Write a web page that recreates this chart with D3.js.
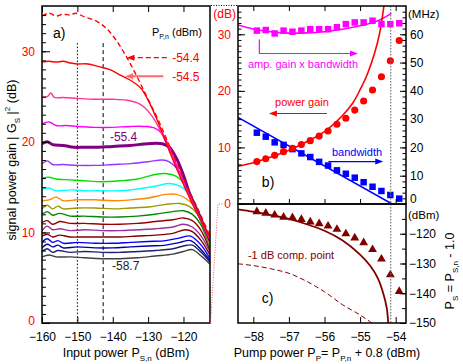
<!DOCTYPE html>
<html><head><meta charset="utf-8">
<script src="https://cdn.jsdelivr.net/npm/d3@7"></script>
<style>body{margin:0;background:#fff} svg{display:block;font-family:"Liberation Sans",Arial,sans-serif}</style>
</head><body><svg id="c" width="463" height="364"></svg>
<script>
// ---------- Panel a data: gain vs input power, one curve per pump power ----------
const pumpLabels = ["-54.4","-54.5","-54.7","-55.0","-55.4","-55.7","-56.0","-56.3","-56.6","-56.9","-57.2","-57.5","-57.8","-58.0","-58.2","-58.4","-58.6","-58.7"];
const curveColors = ["#ff0000","#ff0000","#ff3399","#ff00ff","#800080","#9933ff","#00e000","#00ffff","#ff8800","#999900","#008800","#990000","#993399","#800000","#0000ff","#0000aa","#202070","#404040"];
const gainCurves = [
 [[-160,33.9],[-158,34.2],[-156,33.9],[-154,34.1],[-152,34.0],[-150.5,34.2],[-148,33.8],[-145,33.4],[-142,32.6],[-139,31.2],[-136,29.3],[-133,27.1],[-130,24.7],[-127,22.3],[-124,19.6],[-121,16.9],[-118,14.3],[-115,11.8],[-112.5,9.6]],
 [[-160,28.8],[-158,28.9],[-156,28.8],[-154,28.9],[-152,28.7],[-150,28.6],[-147,28.6],[-144,28.3],[-141,28.0],[-138,27.4],[-135,26.8],[-132,25.9],[-130,24.6],[-127,22.0],[-124,19.0],[-121,16.2],[-118,13.6],[-115,11.3],[-112.5,9.4]],
 [[-160,24.9],[-158.5,25.0],[-157.5,25.4],[-156.5,24.9],[-154,24.9],[-150,24.8],[-145,24.7],[-140,24.7],[-136,24.6],[-133,24.3],[-131,23.8],[-129,22.9],[-127,21.6],[-124,19.1],[-121,16.3],[-118,13.7],[-115,11.3],[-112.5,9.3]],
 [[-160,22.0],[-158,22.2],[-156,21.8],[-153,21.8],[-150,21.7],[-145,21.6],[-140,21.6],[-135,21.7],[-131,21.7],[-128,21.5],[-126,20.9],[-124,19.4],[-121,16.5],[-118,13.8],[-115,11.3],[-112.5,9.2]],
 [[-160,19.8],[-158.5,20.0],[-157,19.7],[-154,19.6],[-151,19.4],[-148,19.4],[-144,19.4],[-140,19.5],[-135,19.6],[-130,19.8],[-126,19.8],[-124,19.4],[-122,18.2],[-120,16.3],[-118,14.0],[-115,11.4],[-112.5,9.1]],
 [[-160,17.6],[-158.5,17.9],[-157,17.5],[-154,17.5],[-150,17.4],[-145,17.4],[-140,17.5],[-135,17.6],[-130,17.8],[-126,18.0],[-124,17.8],[-122,17.1],[-120,15.9],[-118,14.1],[-115,11.5],[-112.5,9.0]],
 [[-160,16.0],[-158,16.1],[-156,15.9],[-152,15.8],[-148,15.7],[-143,15.6],[-138,15.7],[-133,15.9],[-128,16.4],[-125,16.5],[-122,16.2],[-120,15.5],[-118,14.2],[-115,11.6],[-112.5,8.9]],
 [[-160,14.8],[-158,14.9],[-156,14.6],[-152,14.7],[-148,14.6],[-143,14.6],[-138,14.6],[-133,14.8],[-128,15.1],[-124,15.4],[-121,15.1],[-119,14.5],[-117,13.3],[-115,11.7],[-112.5,8.8]],
 [[-160,13.5],[-158,13.6],[-156,13.9],[-154,13.5],[-150,13.6],[-145,13.6],[-140,13.5],[-135,13.6],[-130,13.8],[-125,14.2],[-122,14.2],[-119.5,13.8],[-117,12.9],[-115,11.4],[-112.5,8.6]],
 [[-160,12.6],[-158.5,13.0],[-157,12.6],[-155.5,12.9],[-154,12.6],[-150,12.7],[-145,12.7],[-140,12.6],[-135,12.7],[-130,12.8],[-125,13.1],[-121,13.2],[-118.5,12.9],[-116,12.0],[-112.5,8.4]],
 [[-160,12.0],[-158.5,12.3],[-157,11.9],[-155,12.1],[-152,11.8],[-148,11.8],[-143,11.7],[-138,11.7],[-133,11.8],[-128,12.0],[-123,12.3],[-120,12.4],[-117.5,12.0],[-115,10.8],[-112.5,8.2]],
 [[-160,11.1],[-158.5,11.3],[-157,10.9],[-155,11.2],[-152,11.0],[-148,11.0],[-143,10.9],[-138,10.9],[-133,11.0],[-128,11.2],[-123,11.4],[-120,11.6],[-117.5,11.3],[-115,10.2],[-112.5,8.0]],
 [[-160,10.2],[-158.5,10.7],[-157,10.3],[-155,10.4],[-152,10.2],[-148,10.3],[-143,10.2],[-138,10.2],[-133,10.3],[-128,10.4],[-123,10.6],[-120,10.9],[-117.5,10.6],[-115,9.6],[-112.5,7.8]],
 [[-160,9.6],[-158.5,9.8],[-157,9.5],[-155,9.7],[-152,9.5],[-148,9.5],[-143,9.5],[-138,9.5],[-133,9.6],[-128,9.7],[-123,9.9],[-119.5,10.3],[-117.5,10.1],[-115,9.1],[-112.5,7.5]],
 [[-160,8.9],[-158.5,9.3],[-157,8.9],[-155.5,9.1],[-154,8.8],[-150,8.9],[-145,8.8],[-140,8.8],[-135,8.9],[-130,9.0],[-125,9.1],[-121,9.4],[-118,9.6],[-115,8.6],[-112.5,7.1]],
 [[-160,8.3],[-158.5,8.7],[-157,8.4],[-155.5,8.6],[-154,8.3],[-150,8.4],[-145,8.3],[-140,8.3],[-135,8.4],[-130,8.5],[-125,8.6],[-121,8.9],[-118,9.1],[-115,8.1],[-112.5,6.9]],
 [[-160,7.9],[-158.5,8.2],[-157,7.8],[-155.5,8.0],[-152,7.8],[-148,7.9],[-143,7.8],[-138,7.8],[-133,7.9],[-128,8.0],[-123,8.2],[-120,8.5],[-117.5,8.6],[-115,7.8],[-112.5,6.7]],
 [[-160,7.3],[-158,7.5],[-156,7.3],[-152,7.3],[-148,7.2],[-143,7.1],[-138,7.1],[-133,7.2],[-128,7.4],[-123,7.6],[-120,7.9],[-117.5,8.1],[-115,7.4],[-112.5,6.5]]
];
const inputTicks = [-160,-150,-140,-130,-120];
const gainTicks = [0,10,20,30];
const markerInputs = [-150,-142.7];

// ---------- Panel b/c data ----------
const pumpMeas = [-57.9,-57.65,-57.4,-57.15,-56.9,-56.65,-56.4,-56.15,-55.9,-55.65,-55.4,-55.15,-54.9,-54.65,-54.4,-54.15,-53.9];
const gainMeas = [7.5,8.0,8.6,9.25,9.85,10.5,11.2,12.0,12.9,14.1,15.15,16.6,18.2,20.15,22.5,25.3,28.9];
const bwMeas = [25.2,23.8,21.8,20.9,19.4,17.9,16.6,14.9,13.6,11.9,10.7,9.3,7.7,6.1,4.6,3.2,1.9];
const gbwMeas = [61.3,61.5,60.3,61.3,60.9,61.3,61.8,61.8,61.8,62.5,63.6,64.2,64.2,64.8,63.6,63.6,63.9];
const compMeas = [-112.6,-113.1,-113.7,-114.4,-114.6,-115.2,-116.0,-116.6,-117.4,-118.5,-120.0,-121.4,-123.0,-125.3,-128.5,-133.8,-139.4];
const gainTheory = [[-58.43,6.7],[-58,7.3],[-57.5,8.3],[-57,9.5],[-56.5,11.0],[-56,12.8],[-55.5,15.6],[-55.2,17.9],[-55,20.2],[-54.8,22.9],[-54.6,26.5],[-54.45,30.2],[-54.32,35.5]];
const bwTheory = [[-58.43,30.6],[-54.1,0]];
const gbwTheory = [[-58.43,63.3],[-58,61.9],[-57.5,60.9],[-57,60.4],[-56.5,60.5],[-56,60.9],[-55.5,61.8],[-55,63.0],[-54.5,64.8],[-54.12,67.4]];
const compTheory = [[-58.43,-111.8],[-58,-112.6],[-57.5,-113.7],[-57,-115.0],[-56.5,-116.8],[-56,-119.0],[-55.5,-122.2],[-55,-127.0],[-54.7,-131.0],[-54.5,-135],[-54.35,-140],[-54.25,-145],[-54.21,-150]];
const compTheoryDashed = [[-58.43,-130.1],[-58,-130.7],[-57.5,-131.8],[-57,-133.3],[-56.5,-136.0],[-56,-139.5],[-55.5,-143.8],[-55,-147.3],[-54.67,-150]];
const pumpTicks = [-58,-57,-56,-55,-54];
const mhzTicks = [0,10,20,30,40,50,60];
const dbmTicks = [-150,-140,-130,-120];
const criticalPump = -54.14;

// ---------- scales ----------
const svg = d3.select("#c");
const FONT = '"Liberation Sans",Arial,sans-serif';
const xa = d3.scaleLinear([-160,-112.5],[42,210]);
const ya = d3.scaleLinear([0,35],[323,6]);
const xb = d3.scaleLinear([-58.43,-53.71],[238,406]);
const ybL = d3.scaleLinear([0,35],[204,6]);
const ybR = d3.scaleLinear([0,70],[204,6]);
const yc = d3.scaleLinear([-150,-110],[323,204]);

const defs = svg.append("defs");
function clip(id,x0,x1,y0,y1){defs.append("clipPath").attr("id",id).append("rect").attr("x",x0).attr("y",Math.min(y0,y1)).attr("width",x1-x0).attr("height",Math.abs(y1-y0));}
clip("ca",xa.range()[0],xa.range()[1],ya.range()[0],ya.range()[1]);
clip("cb",xb.range()[0],xb.range()[1],ybL.range()[0],ybL.range()[1]);
clip("cc",xb.range()[0],xb.range()[1],yc.range()[0],yc.range()[1]);

function rich(sel, parts, fs){
  let shift=0;
  parts.forEach(([t,k])=>{
    const target = k==='sub'?Math.round(fs*0.3):k==='sup'?-Math.round(fs*0.45):0;
    sel.append("tspan").attr("dy", target-shift).attr("font-size", k==='n'?fs:Math.round(fs*0.62)).text(t);
    shift=target;
  });
  return sel;
}
function arrowHead(g,x,y,dir,color){
  const L=8,W=3;
  const pts = dir==='left'?[[x,y],[x+L,y-W],[x+L,y+W]]:[[x,y],[x-L,y-W],[x-L,y+W]];
  g.append("path").attr("d","M"+pts.map(p=>p.join(",")).join("L")+"Z").attr("fill",color);
}

// ---------- Panel a ----------
const gA = svg.append("g").attr("clip-path","url(#ca)");
markerInputs.forEach((v,i)=>{
  gA.append("line").attr("x1",xa(v)).attr("x2",xa(v)).attr("y1",ya(30.9)).attr("y2",ya(0))
    .attr("stroke","#000").attr("stroke-width",1).attr("stroke-dasharray",i===0?"1.5,2":"4,3");
});
const lineA = d3.line().x(d=>xa(d[0])).y(d=>ya(d[1])).curve(d3.curveCatmullRom.alpha(0.5));
for(let i=gainCurves.length-1;i>=0;i--){
  gA.append("path").attr("d",lineA(gainCurves[i])).attr("fill","none")
    .attr("stroke",curveColors[i]).attr("stroke-width",i===4?3:1.4)
    .attr("stroke-dasharray",i===0?"5,3":null);
}

function styleAxis(g,color){
  g.attr("font-size",12).attr("font-family",FONT);
  g.select(".domain").remove();
  g.selectAll(".tick line").attr("stroke","#000");
  g.selectAll(".tick text").attr("fill",color||"#000");
}
// left axis a
svg.append("g").attr("transform",`translate(${xa.range()[0]},0)`)
  .call(d3.axisLeft(ya).tickValues(d3.range(0,35,1)).tickSize(-4).tickFormat("")).call(styleAxis);
const lAx = svg.append("g").attr("transform",`translate(${xa.range()[0]},0)`)
  .call(d3.axisLeft(ya).tickValues(gainTicks).tickSize(-8).tickPadding(7)).call(g=>styleAxis(g,"#ff0000"));
lAx.selectAll(".tick text").filter(d=>d===0).attr("dy","0.1em");
svg.append("g").attr("transform",`translate(0,${ya.range()[0]})`)
  .call(d3.axisBottom(xa).tickValues(inputTicks).tickSize(-6).tickPadding(9).tickFormat(d3.format("d"))).call(styleAxis);
svg.append("g").attr("transform",`translate(0,${ya.range()[1]})`)
  .call(d3.axisTop(xa).tickValues(inputTicks).tickSize(-6).tickFormat("")).call(styleAxis);
svg.append("rect").attr("x",42).attr("y",6).attr("width",168).attr("height",317)
  .attr("fill","none").attr("stroke","#000").attr("stroke-width",1.5);

// panel a texts
svg.append("text").attr("x",xa(-156.9)).attr("y",ya(31.5)).attr("font-size",14).attr("font-family",FONT).text("a)");
rich(svg.append("text").attr("x",xa(-128.9)).attr("y",ya(31.7)).attr("font-family",FONT).attr("fill","#000"),
  [["P","n"],["P,n","sub"],[" (dBm)","n"]],11);
svg.append("text").attr("x",xa(-123.2)).attr("y",ya(28.8)).attr("font-size",12).attr("font-family",FONT).attr("fill","#ff0000").text(pumpLabels[0]);
svg.append("text").attr("x",xa(-123.2)).attr("y",ya(26.7)).attr("font-size",12).attr("font-family",FONT).attr("fill","#ff0000").text(pumpLabels[1]);
svg.append("text").attr("x",xa(-140.8)).attr("y",ya(20.1)).attr("font-size",12).attr("font-family",FONT).attr("fill","#800080").text(pumpLabels[4]);
svg.append("text").attr("x",xa(-140.2)).attr("y",ya(5.85)).attr("font-size",12).attr("font-family",FONT).attr("fill","#222").text(pumpLabels[17]);
// legend arrows
svg.append("line").attr("x1",xa(-124.7)).attr("x2",xa(-134.5)).attr("y1",ya(29.3)).attr("y2",ya(29.3))
  .attr("stroke","#ff0000").attr("stroke-width",1.2).attr("stroke-dasharray","5,3");
arrowHead(svg,xa(-136.1),ya(29.3),"left","#ff0000");
svg.append("line").attr("x1",xa(-125.7)).attr("x2",xa(-135)).attr("y1",ya(27.25)).attr("y2",ya(27.25))
  .attr("stroke","#ff6a6a").attr("stroke-width",2);
arrowHead(svg,xa(-136.5),ya(27.25),"left","#ff6a6a");

// axis titles a
rich(svg.append("text").attr("transform","translate(16,160) rotate(-90)").attr("text-anchor","middle").attr("font-family",FONT),
  [["signal power gain | G","n"],["S","sub"],[" |","n"],["2","sup"],[" (dB)","n"]],12.5);
rich(svg.append("text").attr("x",126).attr("y",357).attr("text-anchor","middle").attr("font-family",FONT),
  [["Input power P","n"],["S,n","sub"],[" (dBm)","n"]],12.5);

// connectors
svg.append("line").attr("x1",211).attr("x2",238).attr("y1",5.5).attr("y2",5.5).attr("stroke","#000").attr("stroke-width",1).attr("stroke-dasharray","1,1.5");
svg.append("path").attr("d",`M210.5,323L218,${ybL(0)}L224,${ybL(0)}`).attr("fill","none").attr("stroke","#ff5555").attr("stroke-width",1).attr("stroke-dasharray","1,1.5");

// ---------- Panel b ----------
const gB = svg.append("g").attr("clip-path","url(#cb)");
const lineBL = d3.line().x(d=>xb(d[0])).y(d=>ybL(d[1])).curve(d3.curveCatmullRom.alpha(0.5));
const lineBR = d3.line().x(d=>xb(d[0])).y(d=>ybR(d[1])).curve(d3.curveCatmullRom.alpha(0.5));
gB.append("path").attr("d",lineBR(gbwTheory)).attr("fill","none").attr("stroke","#ff00ff").attr("stroke-width",1.6);
gB.append("path").attr("d",lineBR(bwTheory)).attr("fill","none").attr("stroke","#0000ff").attr("stroke-width",1.6);
gB.append("path").attr("d",lineBL(gainTheory)).attr("fill","none").attr("stroke","#ff0000").attr("stroke-width",1.6);
const sq = d3.symbol().type(d3.symbolSquare).size(42);
const circ = d3.symbol().type(d3.symbolCircle).size(40);
gB.selectAll(".gbw").data(pumpMeas).join("path").attr("d",sq).attr("fill","#ff00ff")
  .attr("transform",(d,i)=>`translate(${xb(d)},${ybR(gbwMeas[i])})`);
gB.selectAll(".bw").data(pumpMeas).join("path").attr("d",sq).attr("fill","#0000ff")
  .attr("transform",(d,i)=>`translate(${xb(d)},${ybR(bwMeas[i])})`);
gB.selectAll(".gm").data(pumpMeas).join("path").attr("d",circ).attr("fill","#ff0000")
  .attr("transform",(d,i)=>`translate(${xb(d)},${ybL(gainMeas[i])})`);

// ---------- Panel c ----------
const gC = svg.append("g").attr("clip-path","url(#cc)");
const lineC = d3.line().x(d=>xb(d[0])).y(d=>yc(d[1])).curve(d3.curveCatmullRom.alpha(0.5));
gC.append("path").attr("d",lineC(compTheory)).attr("fill","none").attr("stroke","#800000").attr("stroke-width",1.8);
gC.append("path").attr("d",lineC(compTheoryDashed)).attr("fill","none").attr("stroke","#800000").attr("stroke-width",1).attr("stroke-dasharray","5,3");
const tri = d3.symbol().type(d3.symbolTriangle).size(34);
gC.selectAll(".cm").data(pumpMeas).join("path").attr("d",tri).attr("fill","#800000")
  .attr("transform",(d,i)=>`translate(${xb(d)},${yc(compMeas[i])})`);

// critical pump line
svg.append("line").attr("x1",xb(criticalPump)).attr("x2",xb(criticalPump)).attr("y1",ybL.range()[1]).attr("y2",yc.range()[0])
  .attr("stroke","#777").attr("stroke-width",1.2).attr("stroke-dasharray","1.5,1.5");

// axes b / c
svg.append("g").attr("transform",`translate(${xb.range()[0]},0)`)
  .call(d3.axisLeft(ybL).tickValues(d3.range(0,35,1)).tickSize(-3.5).tickFormat("")).call(styleAxis);
svg.append("g").attr("transform",`translate(${xb.range()[0]},0)`)
  .call(d3.axisLeft(ybL).tickValues(gainTicks).tickSize(-7).tickPadding(7)).call(g=>styleAxis(g,"#ff0000"));
svg.append("g").attr("transform",`translate(${xb.range()[1]},0)`)
  .call(d3.axisRight(ybR).tickValues(d3.range(0,70,2)).tickSize(-3.5).tickFormat("")).call(styleAxis);
const rAx = svg.append("g").attr("transform",`translate(${xb.range()[1]},0)`)
  .call(d3.axisRight(ybR).tickValues(mhzTicks).tickSize(-6).tickPadding(4)).call(styleAxis);
rAx.selectAll(".tick text").filter(d=>d===0).attr("dy","-0.1em");
svg.append("g").attr("transform",`translate(0,${ybL.range()[1]})`)
  .call(d3.axisTop(xb).tickValues(pumpTicks).tickSize(-5).tickFormat("")).call(styleAxis);
svg.append("g").attr("transform",`translate(0,${ybL.range()[0]})`)
  .call(d3.axisBottom(xb).tickValues(pumpTicks).tickSize(-5).tickFormat("")).call(styleAxis);
svg.append("g").attr("transform",`translate(0,${yc.range()[0]})`)
  .call(d3.axisBottom(xb).tickValues(pumpTicks).tickSize(-6).tickPadding(9).tickFormat(d3.format("d"))).call(styleAxis);
svg.append("g").attr("transform",`translate(${xb.range()[1]},0)`)
  .call(d3.axisRight(yc).tickValues(d3.range(-150,-110,5)).tickSize(-4).tickFormat("")).call(styleAxis);
svg.append("g").attr("transform",`translate(${xb.range()[1]},0)`)
  .call(d3.axisRight(yc).tickValues(dbmTicks).tickSize(-6).tickPadding(3)).call(styleAxis);

svg.append("rect").attr("x",238).attr("y",6).attr("width",168).attr("height",198).attr("fill","none").attr("stroke","#000").attr("stroke-width",1.5);
svg.append("rect").attr("x",238).attr("y",204).attr("width",168).attr("height",119).attr("fill","none").attr("stroke","#000").attr("stroke-width",1.5);

// unit labels
svg.append("text").attr("x",236).attr("y",18).attr("text-anchor","end").attr("font-size",12).attr("font-family",FONT).attr("fill","#ff0000").text("(dB)");
svg.append("text").attr("x",408).attr("y",18).attr("font-size",11.5).attr("font-family",FONT).text("(MHz)");
svg.append("text").attr("x",408).attr("y",219).attr("font-size",11.5).attr("font-family",FONT).text("(dBm)");
rich(svg.append("text").attr("transform","translate(454,271) rotate(-90)").attr("text-anchor","middle").attr("font-family",FONT),
  [["P","n"],["S","sub"],[" = P","n"],["S,n","sub"],[" - 1.0","n"]],12.5);
rich(svg.append("text").attr("x",327).attr("y",357).attr("text-anchor","middle").attr("font-family",FONT),
  [["Pump power P","n"],["P","sub"],["= P","n"],["P,n","sub"],[" + 0.8 (dBm)","n"]],12.5);

// panel b annotations
svg.append("text").attr("x",xb(-58.15)).attr("y",ybL(24.0)).attr("font-size",11).attr("font-family",FONT).attr("fill","#ff00ff").text("amp. gain x bandwidth");
svg.append("path").attr("d",`M${xb(-57.83)},${ybL(29.1)}V${ybL(26.6)}H${xb(-55.2)}`).attr("fill","none").attr("stroke","#ff00ff").attr("stroke-width",1.2);
arrowHead(svg,xb(-55.06),ybL(26.6),"right","#ff00ff");
svg.append("text").attr("x",xb(-57.39)).attr("y",ybL(17.4)).attr("font-size",11).attr("font-family",FONT).attr("fill","#ff0000").text("power gain");
svg.append("line").attr("x1",xb(-55.93)).attr("x2",xb(-57.4)).attr("y1",ybL(16.0)).attr("y2",ybL(16.0)).attr("stroke","#ff0000").attr("stroke-width",1.2);
arrowHead(svg,xb(-57.56),ybL(16.0),"left","#ff0000");
svg.append("text").attr("x",xb(-55.79)).attr("y",ybL(8.4)).attr("font-size",11).attr("font-family",FONT).attr("fill","#0000ff").text("bandwidth");
svg.append("line").attr("x1",xb(-55.89)).attr("x2",xb(-54.5)).attr("y1",ybL(7.5)).attr("y2",ybL(7.5)).attr("stroke","#0000ff").attr("stroke-width",1.2);
arrowHead(svg,xb(-54.35),ybL(7.5),"right","#0000ff");
svg.append("text").attr("x",xb(-57.76)).attr("y",ybL(3.0)).attr("font-size",14).attr("font-family",FONT).text("b)");
// panel c annotations
svg.append("text").attr("x",xb(-58.15)).attr("y",yc(-128.4)).attr("font-size",11).attr("font-family",FONT).attr("fill","#800000").text("-1 dB comp. point");
svg.append("text").attr("x",xb(-57.76)).attr("y",yc(-143.3)).attr("font-size",14).attr("font-family",FONT).text("c)");
</script></body></html>
